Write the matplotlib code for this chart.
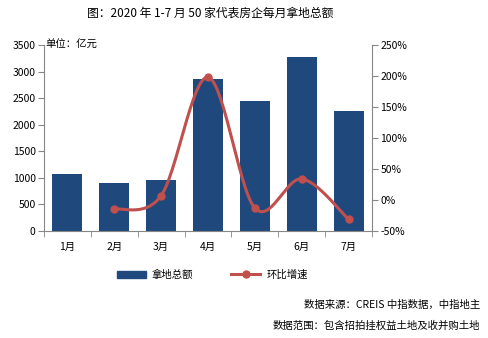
import matplotlib
matplotlib.use("Agg")
import matplotlib.pyplot as plt
from matplotlib.lines import Line2D
from matplotlib.patches import Patch
import numpy as np

plt.rcParams['font.family'] = ['Noto Sans CJK SC', 'DejaVu Sans']
plt.rcParams['axes.unicode_minus'] = False

months = ['1月', '2月', '3月', '4月', '5月', '6月', '7月']
land_total = [1075, 905, 960, 2860, 2450, 3280, 2260]   # 亿元
mom_growth = [np.nan, -15, 7, 198, -13, 34, -31]        # %

bar_color = '#1F497D'
line_color = '#C0504D'
axis_grey = '#868686'


def smooth(xs, ys, n=30):
    # Catmull-Rom style smoothing through the given points
    px, py = [], []
    for i in range(len(xs) - 1):
        x0, y0 = (xs[i - 1], ys[i - 1]) if i > 0 else (xs[i], ys[i])
        x1, y1 = xs[i], ys[i]
        x2, y2 = xs[i + 1], ys[i + 1]
        x3, y3 = (xs[i + 2], ys[i + 2]) if i + 2 < len(xs) else (x2, y2)
        c1 = (x1 + (x2 - x0) / 6, y1 + (y2 - y0) / 6)
        c2 = (x2 - (x3 - x1) / 6, y2 - (y3 - y1) / 6)
        t = np.linspace(0, 1, n)
        bx = (1-t)**3*x1 + 3*(1-t)**2*t*c1[0] + 3*(1-t)*t**2*c2[0] + t**3*x2
        by = (1-t)**3*y1 + 3*(1-t)**2*t*c1[1] + 3*(1-t)*t**2*c2[1] + t**3*y2
        px.extend(bx)
        py.extend(by)
    return np.array(px), np.array(py)


fig = plt.figure(figsize=(4.88, 3.38), dpi=100)
ax = fig.add_axes([0.0902, 0.3166, 0.672, 0.5503])
x = np.arange(len(months))
ax.bar(x, land_total, width=0.64, color=bar_color, zorder=2)
ax.set_xlim(-0.5, len(months) - 0.5)
ax.set_ylim(0, 3500)
ax.set_yticks(np.arange(0, 3501, 500))
ax.set_xticks(x)
ax.set_xticklabels(months)
ax.set_xticks(np.arange(-0.5, len(months)), minor=True)
ax.tick_params(axis='x', which='major', length=0, pad=8, labelsize=7.5)
ax.tick_params(axis='x', which='minor', length=4, color=axis_grey)
ax.tick_params(axis='y', length=4, color=axis_grey, labelsize=7.5, pad=2)
for s in ['top', 'right']:
    ax.spines[s].set_visible(False)
for s in ['left', 'bottom']:
    ax.spines[s].set_color(axis_grey)

ax2 = ax.twinx()
ax2.set_ylim(-50, 250)
ax2.set_yticks(np.arange(-50, 251, 50))
ax2.set_yticklabels([f'{v}%' for v in range(-50, 251, 50)])
ax2.tick_params(axis='y', length=4, color=axis_grey, labelsize=7.5, pad=2)
for s in ['top', 'left', 'bottom']:
    ax2.spines[s].set_visible(False)
ax2.spines['right'].set_color(axis_grey)

gx = x[1:]
gy = np.array(mom_growth[1:], dtype=float)
sx, sy = smooth(gx, gy)
ax2.plot(sx, sy, color=line_color, lw=2.2, zorder=3)
ax2.plot(gx, gy, 'o', color=line_color, ms=5, zorder=4)

fig.text(0.43, 0.962, '图：2020 年 1-7 月 50 家代表房企每月拿地总额',
         ha='center', va='center', fontsize=8.5)
fig.text(0.094, 0.868, '单位：亿元', ha='left', va='center', fontsize=7.5)

handles = [Patch(color=bar_color),
           Line2D([], [], color=line_color, lw=2.2, marker='o', ms=5)]
fig.legend(handles, ['拿地总额', '环比增速'], loc='center', ncol=2,
           bbox_to_anchor=(0.435, 0.187), frameon=False, fontsize=7.5,
           handlelength=2.8, columnspacing=3.6, handletextpad=0.6)

fig.text(0.984, 0.098, '数据来源：CREIS 中指数据，中指地主',
         ha='right', va='center', fontsize=7.5)
fig.text(0.984, 0.036, '数据范围：包含招拍挂权益土地及收并购土地',
         ha='right', va='center', fontsize=7.5)

fig.savefig('out.png', dpi=100)
